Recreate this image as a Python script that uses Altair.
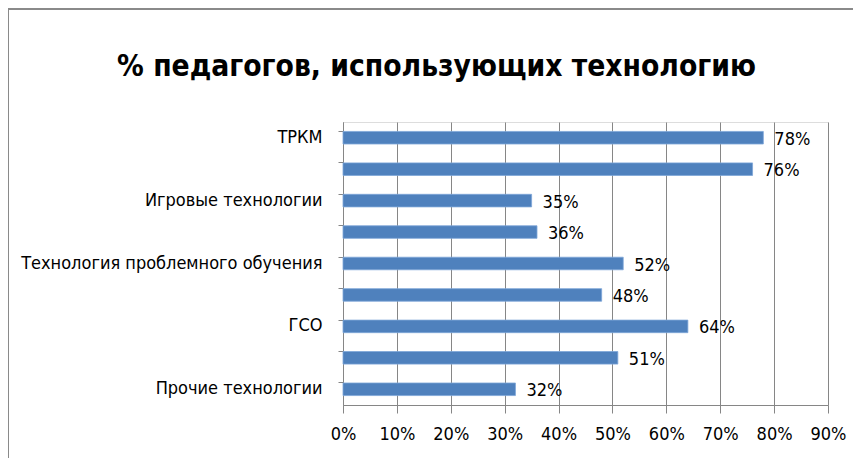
import altair as alt
import pandas as pd

categories = ["ТРКМ", "", "Игровые технологии", "", "Технология проблемного обучения",
              "", "ГСО", "", "Прочие технологии"]
values = [0.78, 0.76, 0.35, 0.36, 0.52, 0.48, 0.64, 0.51, 0.32]
x_ticks = [0, 0.1, 0.2, 0.3, 0.4, 0.5, 0.6, 0.7, 0.8, 0.9]

df = pd.DataFrame({
    "idx": list(range(len(values))),
    "label": categories,
    "value": values,
})

FONT = "'DejaVu Sans Condensed', 'Liberation Sans'"
GRID = "#868686"
BAR = "#4F81BD"

label_expr = "[" + ",".join("'" + c + "'" for c in categories) + "][datum.value]"

y_enc = alt.Y(
    "idx:O",
    title=None,
    scale=alt.Scale(paddingInner=0.6, paddingOuter=0.3),
    axis=alt.Axis(
        labelExpr=label_expr,
        bandPosition=0,
        tickSize=5,
        tickColor=GRID,
        domainColor=GRID,
        labelFont=FONT,
        labelFontSize=18,
        labelColor="#000000",
        labelPadding=16,
        labelLimit=400,
        grid=False,
    ),
)

x_enc = alt.X(
    "value:Q",
    title=None,
    scale=alt.Scale(domain=[0, 0.9], nice=False),
    axis=alt.Axis(
        values=x_ticks,
        format=".0%",
        grid=True,
        gridColor=GRID,
        gridWidth=1,
        tickSize=8,
        tickColor=GRID,
        domainColor=GRID,
        labelFont=FONT,
        labelFontSize=18,
        labelColor="#000000",
        labelPadding=12,
        labelOverlap=False,
        labelFlush=False,
    ),
)

base = alt.Chart(df)

bars = base.mark_bar(color=BAR, stroke="#7EA6D8", strokeWidth=0.8).encode(x=x_enc, y=y_enc)

texts = base.mark_text(
    align="left", baseline="middle", dx=11, dy=2,
    font=FONT, fontSize=18, color="#000000",
).encode(
    x=alt.X("value:Q"),
    y=alt.Y("idx:O"),
    text=alt.Text("value:Q", format=".0%"),
)

border_left = alt.Chart(pd.DataFrame({"a": [0]})).mark_rule(
    color="#8a8a8a", strokeWidth=2, clip=False
).encode(x=alt.value(-335), y=alt.value(-114), y2=alt.value(345))

border_top = alt.Chart(pd.DataFrame({"a": [0]})).mark_rule(
    color="#8a8a8a", strokeWidth=2, clip=False
).encode(x=alt.value(-335), x2=alt.value(520), y=alt.value(-113))

chart = alt.layer(bars, texts, border_left, border_top).properties(
    width=485,
    height=283,
    padding={"left": 335, "top": 114, "right": 25, "bottom": 53},
    autosize=alt.AutoSizeParams(type="none"),
    title=alt.TitleParams(
        "% педагогов, использующих технологию",
        font=FONT, fontSize=29.7, fontWeight="bold", color="#000000",
        anchor="middle", frame="group", dx=-149, offset=-99,
        baseline="alphabetic",
    ),
).configure_view(stroke=None).configure(background="white")

chart.save("out.html", embed_options={"renderer": "svg", "actions": False})
